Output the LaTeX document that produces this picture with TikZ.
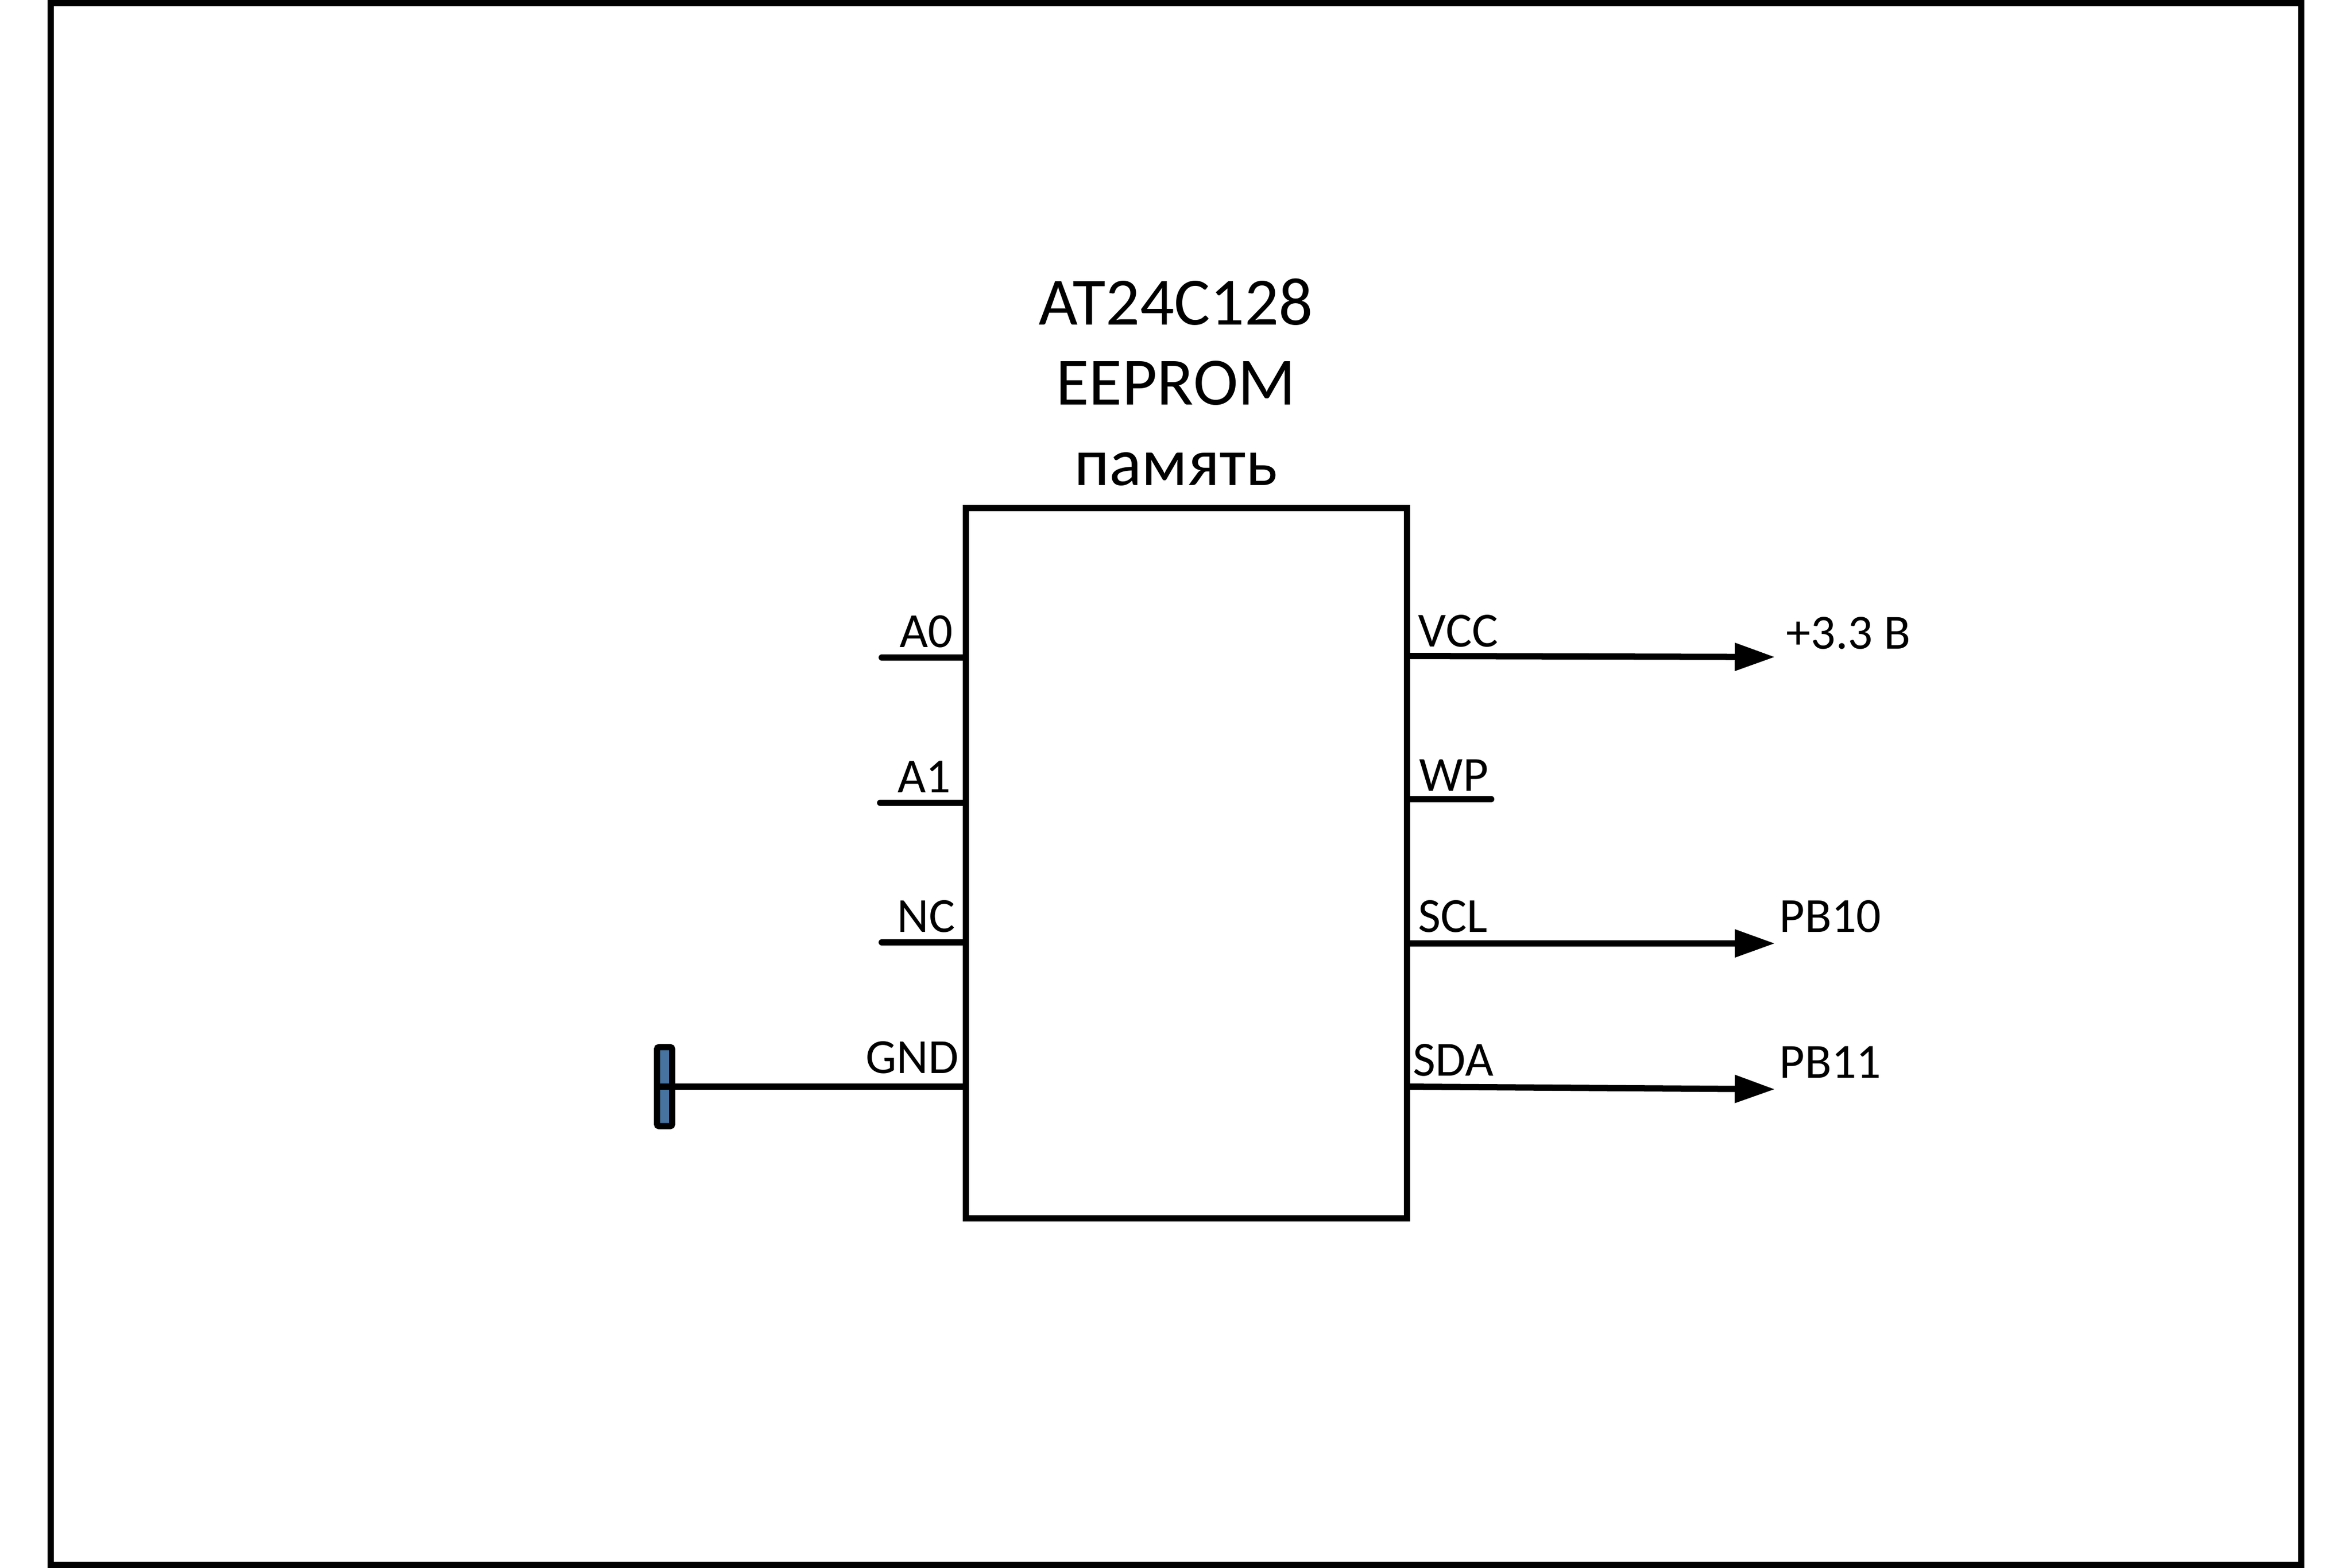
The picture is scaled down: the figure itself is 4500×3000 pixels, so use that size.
\documentclass[tikz,border=0pt]{standalone}
\usepackage{fontspec}
\setmainfont{Carlito}
\usetikzlibrary{arrows.meta}
\definecolor{gndblue}{RGB}{70,115,160}
\tikzset{
	wire/.style={line width=0.12cm,line cap=round},
	sig/.style={line width=0.12cm,-{Triangle[length=0.77cm,width=0.51cm]}},
	pin/.style={font=\fontsize{26.7}{32}\selectfont,inner sep=0pt},
}

\begin{document}
\begin{tikzpicture}[x=0.01cm,y=-0.01cm]
			
			\useasboundingbox (0,0) rectangle (4500,3000);
			
			\node[draw,line width=0.12cm,minimum width=43.035cm,minimum height=29.86cm,inner sep=0pt]
			(Frame) at (2249.75,1500) {};
			
			\node[draw,line width=0.12cm,minimum width=8.44cm,minimum height=13.59cm,inner sep=0pt]
			(Chip) at (2270,1651.5) {};
			
			\node[align=center,inner sep=0pt,font=\fontsize{36.8}{43.7}\selectfont]
			(Title) at (2250,731) {AT24C128\\EEPROM\\память};
			
			\node[draw,line width=0.12cm,fill=gndblue,rounded corners=0.04cm,minimum width=0.29cm,minimum height=1.51cm,inner sep=0pt,outer sep=0pt]
			(Gnd) at (1271.5,2079) {};
			
			% left side
			\coordinate (A0-In) at (1687,1258);
			\coordinate (A1-In) at (1684,1536);
			\coordinate (NC-In) at (1687,1803);
			\coordinate (A0-Pin) at (Chip.west |- A0-In);
			\coordinate (A1-Pin) at (Chip.west |- A1-In);
			\coordinate (NC-Pin) at (Chip.west |- NC-In);
			\coordinate (GND-Pin) at (Chip.west |- Gnd.center);
			
			\draw[wire] (A0-In) -- (A0-Pin);
			\draw[wire] (A1-In) -- (A1-Pin);
			\draw[wire] (NC-In) -- (NC-Pin);
			\draw[wire] (Gnd.west) -- (GND-Pin);
			
			\node[pin,anchor=base east] (A0-Label) at (1824,1238) {A0};
			\node[pin,anchor=base east] (A1-Label) at (1820,1516) {A1};
			\node[pin,anchor=base east] (NC-Label) at (1828,1783) {NC};
			\node[pin,anchor=base east] (GND-Label) at (1835,2053) {GND};
			
			% right side
			\coordinate (VCC-Pin) at (2692,1255);
			\coordinate (WP-Pin) at (2692,1529);
			\coordinate (SCL-Pin) at (2692,1805);
			\coordinate (SDA-Pin) at (2692,2079);
			\coordinate (WP-End) at (2853,1529);
			
			\node[pin,anchor=base west] (VCC-Out) at (3417,1241) {+3.3 В};
			\node[pin,anchor=base west] (SCL-Out) at (3404,1783) {PB10};
			\node[pin,anchor=base west] (SDA-Out) at (3404,2062) {PB11};
			\coordinate (VCC-Tip) at (3396,1257);
			\coordinate (SCL-Tip) at (3396,1805);
			\coordinate (SDA-Tip) at (3396,2084);
			
			\draw[sig] (VCC-Pin) -- (VCC-Tip);
			\draw[wire] (WP-Pin) -- (WP-End);
			\draw[sig] (SCL-Pin) -- (SCL-Tip);
			\draw[sig] (SDA-Pin) -- (SDA-Tip);
			
			\node[pin,anchor=base west] (VCC-Label) at (2713,1237) {VCC};
			\node[pin,anchor=base west] (WP-Label) at (2715,1513) {WP};
			\node[pin,anchor=base west] (SCL-Label) at (2713,1783) {SCL};
			\node[pin,anchor=base west] (SDA-Label) at (2703,2058) {SDA};
			
		\end{tikzpicture}
\end{document}
